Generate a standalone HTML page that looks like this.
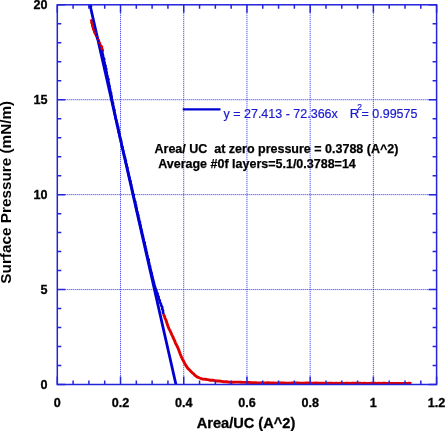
<!DOCTYPE html>
<html><head><meta charset="utf-8"><style>
html,body{margin:0;padding:0;background:#fff;width:445px;height:431px;overflow:hidden;}
svg{display:block;will-change:transform;}
</style></head><body>
<svg width="445" height="431" viewBox="0 0 445 431"><path d="M120.52 4.80V384.50M183.73 4.80V384.50M246.95 4.80V384.50M310.17 4.80V384.50M373.38 4.80V384.50M57.30 289.57H436.60M57.30 194.65H436.60M57.30 99.73H436.60" stroke="#2d2de8" stroke-width="1" stroke-dasharray="1 1" fill="none"/>
<polyline points="163.46,314.11 164.34,316.08 165.09,318.31 166.09,320.45 166.82,322.78 167.56,324.93 168.27,326.97 169.18,329.07 170.11,330.88 171.03,332.84 171.81,334.85 172.79,336.61 173.62,338.61 174.58,340.59 175.27,342.58 176.09,344.33 177.14,346.16 177.93,348.05 178.85,350.18 179.59,352.25 180.28,354.23 181.13,356.22 182.22,358.67 183.50,360.93 184.55,363.17 185.69,365.08 186.91,366.86 187.84,368.47 189.45,369.86 190.89,371.40 192.29,372.87 193.98,374.22 195.32,375.63 197.01,376.87 199.68,378.01 202.62,379.10 205.21,379.30 207.67,379.69 210.42,380.24 212.45,380.28 214.72,380.57 217.05,380.95 219.23,381.05 221.53,381.36 223.82,381.74 226.11,381.80 228.34,382.05 230.28,382.18 232.61,382.23 234.73,382.15 236.72,382.12 238.91,382.17 240.85,382.27 242.99,382.37 245.07,382.33 247.22,382.42 249.39,382.46 251.66,382.69 253.55,382.65 255.73,382.74 257.77,382.94 260.15,382.89 262.00,382.79 263.88,382.87 265.93,383.03 267.90,382.80 270.14,382.96 271.89,382.97 273.86,382.98 276.14,383.09 278.06,382.92 279.96,382.90 282.08,383.02 284.08,382.97 285.92,383.12 288.15,383.15 290.09,383.15 292.07,382.98 294.01,383.03 295.86,382.94 297.93,383.02 300.06,383.24 301.98,383.24 304.15,383.25 305.96,383.04 307.92,383.04 309.91,383.18 312.12,383.25 313.99,383.20 316.09,383.04 318.05,383.29 320.08,383.26 321.99,383.09 324.09,383.15 326.09,383.35 327.97,383.18 330.13,383.29 331.90,383.12 333.90,383.36 336.09,383.14 338.10,383.40 340.05,383.22 342.01,383.16 343.85,383.42 346.04,383.29 348.13,383.27 350.11,383.40 351.96,383.23 354.04,383.23 356.18,383.24 358.18,383.20 360.37,383.27 362.29,383.35 364.47,383.30 366.53,383.33 368.46,383.34 370.36,383.32 372.45,383.19 374.69,383.24 376.64,383.41 378.72,383.29 380.76,383.37 382.89,383.24 384.87,383.28 386.83,383.44 388.95,383.38 391.08,383.49 393.03,383.40 395.10,383.38 397.21,383.36 399.21,383.37 401.38,383.44 403.41,383.52 405.28,383.41 407.53,383.50 409.34,383.28 411.50,383.40" stroke="#e00000" stroke-width="2.9" fill="none" stroke-linejoin="round" stroke-linecap="butt"/>
<polyline points="90.96,19.50 91.59,21.10 91.51,22.70 92.26,24.30 92.26,25.90 93.09,27.50 93.20,29.10 94.11,30.70 94.42,32.30 95.32,33.90 96.23,35.50 97.00,37.10 97.40,38.70 98.77,40.30 99.01,41.90 99.97,43.50 100.29,45.10 101.94,46.70 101.68,48.30 102.74,49.90 102.45,51.50" stroke="#e00000" stroke-width="2.6" fill="none" stroke-linejoin="round"/>
<line x1="89.96" y1="4.80" x2="175.97" y2="384.50" stroke="#0000d2" stroke-width="2.8"/>
<circle cx="90.3" cy="6.3" r="1.9" fill="#0000d2"/>
<polyline points="101.68,50.50 102.26,52.20 102.56,53.90 103.07,55.60 103.24,57.30 104.21,59.00 103.91,60.70 104.61,62.40 104.68,64.10 105.58,65.80 105.56,67.50 106.39,69.20 106.02,70.90 106.77,72.60 106.73,74.30 107.56,76.00 107.57,77.70 108.57,79.40 108.16,81.10 108.82,82.80 108.95,84.50 109.66,86.20 109.64,87.90 110.17,89.60 110.31,91.30 111.10,93.00 111.06,94.70 111.68,96.40 111.61,98.10 112.09,99.80 112.32,101.50 113.07,103.20 112.95,104.90 113.47,106.60 113.49,108.30 114.52,110.00 114.17,111.70 114.86,113.40 115.07,115.10 115.54,116.80 115.65,118.50 116.39,120.20 116.59,121.90 117.21,123.60 117.10,125.30 118.15,127.00 118.04,128.70 118.56,130.40 118.58,132.10 119.52,133.80 119.39,135.50 120.02,137.20 120.33,138.90 121.08,140.60 121.01,142.30 121.59,144.00 121.68,145.70 122.69,147.40 122.54,149.10 123.24,150.80 123.35,152.50 124.05,154.20 124.17,155.90 125.06,157.60 125.15,159.30 125.92,161.00 125.75,162.70 126.55,164.40 126.76,166.10 127.45,167.80 127.50,169.50 128.01,171.20 128.29,172.90 128.75,174.60 129.05,176.30 129.65,178.00 129.79,179.70 130.64,181.40 130.56,183.10 131.28,184.80 131.36,186.50 131.98,188.20 132.18,189.90 132.70,191.60 132.95,193.30 133.71,195.00 133.57,196.70 134.23,198.40 134.39,200.10 135.39,201.80 135.29,203.50 136.12,205.20 135.98,206.90 136.75,208.60 136.65,210.30 137.49,212.00 137.53,213.70 138.42,215.40 138.18,217.10 139.04,218.80 139.02,220.50 140.01,222.20 139.86,223.90 140.65,225.60 140.74,227.30 141.27,229.00 141.59,230.70 142.06,232.40 142.19,234.10 142.93,235.80 143.15,237.50 143.63,239.20 143.72,240.90 144.80,242.60 144.56,244.30 145.29,246.00 145.47,247.70 146.08,249.40 146.18,251.10 146.79,252.80 146.97,254.50 147.62,256.20 147.59,257.90 148.76,259.60 148.52,261.30 149.22,263.00 149.22,264.70 150.07,266.40 150.22,268.10 150.74,269.80 151.04,271.50 151.80,273.20 151.83,274.90 152.49,276.60 152.65,278.30 153.22,280.00 153.55,281.70 154.12,283.40 154.41,285.10 155.01,286.80 155.48,288.50 156.25,290.20 156.64,291.90 157.62,293.60 157.67,295.30 158.67,297.00 158.63,298.70 159.80,300.40 159.80,302.10 160.88,303.80 161.21,305.50 162.29,307.20 162.21,308.90 163.06,310.60 162.96,312.30 163.62,314.00" stroke="#0000d2" stroke-width="2.6" fill="none" stroke-linejoin="round"/>
<polyline points="91.21,19.50 91.84,21.10 91.76,22.70 92.51,24.30 92.51,25.90 93.34,27.50 93.45,29.10 94.36,30.70 94.67,32.30 95.57,33.90 95.98,35.50 96.75,37.10 97.15,38.70 98.52,40.30 98.76,41.90 99.72,43.50 100.04,45.10 101.69,46.70 101.43,48.30 102.49,49.90 102.20,51.50" stroke="#e00000" stroke-width="2.3" fill="none" stroke-dasharray="1.3 2.2" stroke-linejoin="round"/>
<rect x="57.30" y="4.80" width="379.30" height="379.70" stroke="#2424dc" stroke-width="1.5" fill="none"/>
<path d="M57.30 384.50v-8M57.30 4.80v8M73.10 384.50v-4M73.10 4.80v4M88.91 384.50v-4M88.91 4.80v4M104.71 384.50v-4M104.71 4.80v4M120.52 384.50v-8M120.52 4.80v8M136.32 384.50v-4M136.32 4.80v4M152.12 384.50v-4M152.12 4.80v4M167.93 384.50v-4M167.93 4.80v4M183.73 384.50v-8M183.73 4.80v8M199.54 384.50v-4M199.54 4.80v4M215.34 384.50v-4M215.34 4.80v4M231.15 384.50v-4M231.15 4.80v4M246.95 384.50v-8M246.95 4.80v8M262.75 384.50v-4M262.75 4.80v4M278.56 384.50v-4M278.56 4.80v4M294.36 384.50v-4M294.36 4.80v4M310.17 384.50v-8M310.17 4.80v8M325.97 384.50v-4M325.97 4.80v4M341.78 384.50v-4M341.78 4.80v4M357.58 384.50v-4M357.58 4.80v4M373.38 384.50v-8M373.38 4.80v8M389.19 384.50v-4M389.19 4.80v4M404.99 384.50v-4M404.99 4.80v4M420.80 384.50v-4M420.80 4.80v4M436.60 384.50v-8M436.60 4.80v8M57.30 384.50h8M436.60 384.50h-8M57.30 365.51h4M436.60 365.51h-4M57.30 346.53h4M436.60 346.53h-4M57.30 327.55h4M436.60 327.55h-4M57.30 308.56h4M436.60 308.56h-4M57.30 289.57h8M436.60 289.57h-8M57.30 270.59h4M436.60 270.59h-4M57.30 251.60h4M436.60 251.60h-4M57.30 232.62h4M436.60 232.62h-4M57.30 213.64h4M436.60 213.64h-4M57.30 194.65h8M436.60 194.65h-8M57.30 175.67h4M436.60 175.67h-4M57.30 156.68h4M436.60 156.68h-4M57.30 137.70h4M436.60 137.70h-4M57.30 118.71h4M436.60 118.71h-4M57.30 99.73h8M436.60 99.73h-8M57.30 80.74h4M436.60 80.74h-4M57.30 61.75h4M436.60 61.75h-4M57.30 42.77h4M436.60 42.77h-4M57.30 23.78h4M436.60 23.78h-4M57.30 4.80h8M436.60 4.80h-8" stroke="#2424dc" stroke-width="1.5" fill="none"/>
<g font-family="Liberation Sans, sans-serif" font-weight="bold" font-size="12.6" fill="#000" stroke="#000" stroke-width="0.3"><text x="47.6" y="389.00" text-anchor="end">0</text><text x="47.6" y="294.07" text-anchor="end">5</text><text x="47.6" y="199.15" text-anchor="end">10</text><text x="47.6" y="104.23" text-anchor="end">15</text><text x="47.6" y="9.30" text-anchor="end">20</text><text x="57.30" y="407.2" text-anchor="middle">0</text><text x="120.52" y="407.2" text-anchor="middle">0.2</text><text x="183.73" y="407.2" text-anchor="middle">0.4</text><text x="246.95" y="407.2" text-anchor="middle">0.6</text><text x="310.17" y="407.2" text-anchor="middle">0.8</text><text x="373.38" y="407.2" text-anchor="middle">1</text><text x="436.60" y="407.2" text-anchor="middle">1.2</text></g>
<text x="246" y="427.7" text-anchor="middle" font-family="Liberation Sans, sans-serif" font-weight="bold" font-size="14.6" fill="#000" stroke="#000" stroke-width="0.3">Area/UC (A^2)</text>
<text transform="translate(11.0 192.25) rotate(-90)" x="0" y="0" text-anchor="middle" font-family="Liberation Sans, sans-serif" font-weight="bold" font-size="15.3" fill="#000">Surface Pressure (mN/m)</text>
<line x1="182.7" y1="109.4" x2="220.5" y2="109.4" stroke="#0000d2" stroke-width="2.2"/>
<text font-family="Liberation Sans, sans-serif" font-size="12.5" fill="#1a1ad0" stroke="#1a1ad0" stroke-width="0.2" xml:space="preserve"><tspan x="223.5" y="117.6">y = 27.413 - 72.366x</tspan><tspan x="349.7" y="117.6" font-size="13.2">R</tspan><tspan x="357.2" y="110.4" font-size="8.5">2</tspan><tspan x="361.5" y="117.6">= 0.99575</tspan></text>
<text x="154.5" y="152.5" font-family="Liberation Sans, sans-serif" font-weight="bold" font-size="12.5" fill="#000" stroke="#000" stroke-width="0.25" xml:space="preserve">Area/ UC  at zero pressure = 0.3788 (A^2)</text>
<text x="158.2" y="168" font-family="Liberation Sans, sans-serif" font-weight="bold" font-size="12.5" fill="#000" stroke="#000" stroke-width="0.25" xml:space="preserve">Average #0f layers=5.1/0.3788=14</text></svg>
</body></html>
